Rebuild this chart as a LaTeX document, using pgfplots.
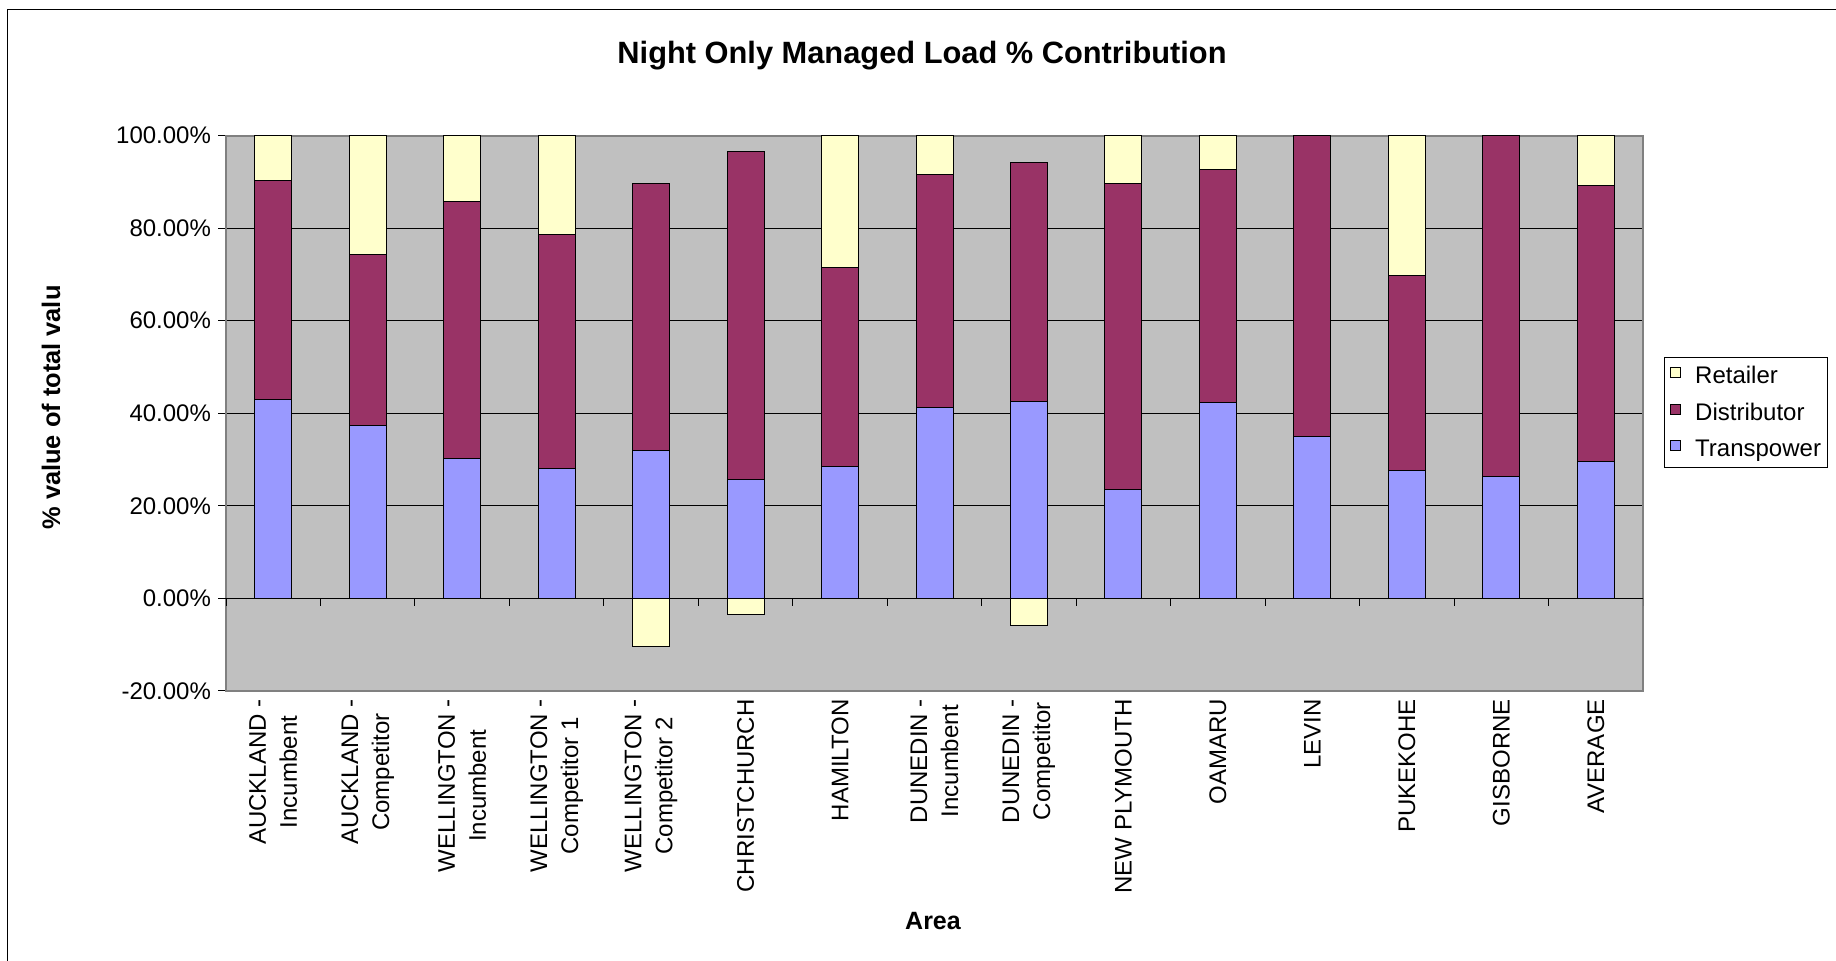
\documentclass[border=0pt]{standalone}
\usepackage{pgfplots}
\usepackage{pgfplotstable}
\pgfplotsset{compat=1.18}
\usepackage{fontspec}
\setmainfont{Liberation Sans}
\definecolor{tp}{RGB}{153,153,255}
\definecolor{dist}{RGB}{153,51,102}
\definecolor{ret}{RGB}{255,255,204}
\definecolor{plotbg}{RGB}{192,192,192}
\definecolor{axframe}{RGB}{128,128,128}

% cumulative tops of each segment (in %)
\pgfplotstableread{
x T D
0 42.9 90.2
1 37.4 74.3
2 30.2 85.7
3 28.1 78.7
4 31.9 89.6
5 25.6 96.5
6 28.4 71.5
7 41.2 91.6
8 42.6 94.1
9 23.5 89.6
10 42.3 92.6
11 35.0 100
12 27.7 69.8
13 26.3 100
14 29.5 89.2
}\tabTD
% retailer: top of bar (positive) or value below zero (negative)
\pgfplotstableread{
x R
0 100
1 100
2 100
3 100
4 -10.4
5 -3.5
6 100
7 100
8 -5.9
9 100
10 100
12 100
14 100
}\tabR

\begin{document}
\begin{tikzpicture}
\useasboundingbox (0pt,0pt) rectangle (918pt,-480pt);
\draw[black, line width=0.5pt] (3.65pt,-490pt) |- (930pt,-4.7pt);

\node[font=\bfseries\fontsize{15.4}{18}\selectfont] at (461pt,-28pt) {Night Only Managed Load \% Contribution};
\node[font=\bfseries\fontsize{12.5}{15}\selectfont] at (466.5pt,-460.7pt) {Area};
\begin{scope}
\clip (0pt,-142.5pt) rectangle (100pt,-480pt);
\node[font=\bfseries\fontsize{12.7}{15}\selectfont, rotate=90, anchor=west, inner sep=0pt] at (25.5pt,-265pt) {\% value of total value};
\end{scope}

\begin{axis}[
  at={(113pt,-345.45pt)}, anchor=south west,
  width=708.5pt, height=277.65pt, scale only axis,
  ybar, bar width=18.5pt, bar shift=0pt,
  xmin=-0.5, xmax=14.5, ymin=-20, ymax=100,
  axis background/.style={fill=plotbg},
  axis line style={draw=axframe, line width=1pt},
  ytick={-20,0,20,40,60,80,100},
  ymajorgrids, grid style={black, line width=0.5pt},
  extra y ticks={0}, extra y tick labels={},
  extra y tick style={grid style={black, line width=0.8pt}},
  ytick pos=left, tick align=outside,
  major tick length=4pt,
  ytick style={black, line width=0.5pt},
  /pgf/number format/assume math mode=true,
  yticklabel={\pgfmathprintnumber[fixed, fixed zerofill, precision=2]{\tick}\%},
  y tick label style={font=\fontsize{12}{14}\selectfont},
  xtick={0,...,14},
  xtick style={draw=none},
  xticklabels={{AUCKLAND -\\Incumbent},{AUCKLAND -\\Competitor},{WELLINGTON -\\Incumbent},{WELLINGTON -\\Competitor 1},{WELLINGTON -\\Competitor 2},{CHRISTCHURCH},{HAMILTON},{DUNEDIN -\\Incumbent},{DUNEDIN -\\Competitor},{NEW PLYMOUTH},{OAMARU},{LEVIN},{PUKEKOHE},{GISBORNE},{AVERAGE}},
  x tick label style={rotate=90, anchor=east, align=center, font=\fontsize{12}{15.5}\selectfont, inner sep=0pt},
  legend style={at={(1.0148,0.6013)}, anchor=north west, draw=black, fill=white,
    font=\fontsize{12}{14}\selectfont, row sep=8.3pt, inner xsep=3pt, inner ysep=4.2pt,
    nodes={inner sep=0pt},
    /tikz/every odd column/.append style={column sep=7pt}},
  legend cell align=left,
]
\addplot[fill=ret, draw=black, line width=0.5pt,
  legend image code/.code={\draw[fill=ret, draw=black, line width=0.4pt] (1.5pt,-0.5pt) rectangle (6.5pt,4.5pt);}]
  table[x=x, y=R] {\tabR};
\addlegendentry{Retailer}
\addplot[fill=dist, draw=black, line width=0.5pt,
  legend image code/.code={\draw[fill=dist, draw=black, line width=0.4pt] (1.5pt,-0.5pt) rectangle (6.5pt,4.5pt);}]
  table[x=x, y=D] {\tabTD};
\addlegendentry{Distributor}
\addplot[fill=tp, draw=black, line width=0.5pt,
  legend image code/.code={\draw[fill=tp, draw=black, line width=0.4pt] (1.5pt,-0.5pt) rectangle (6.5pt,4.5pt);}]
  table[x=x, y=T] {\tabTD};
\addlegendentry{Transpower}
\pgfplotsinvokeforeach{-0.5,0.5,...,14.5}{\draw[black, line width=0.5pt] (axis cs:#1,0) -- ++(0pt,-4pt);}
\end{axis}
\end{tikzpicture}
\end{document}
